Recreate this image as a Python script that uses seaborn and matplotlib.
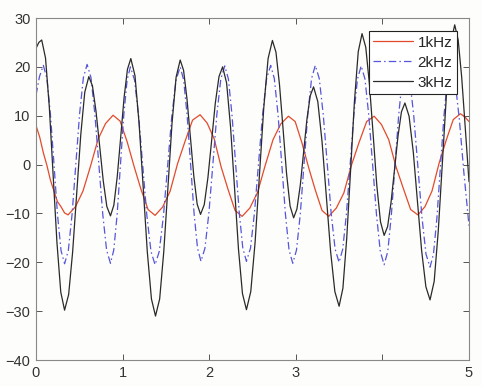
import matplotlib
matplotlib.use("Agg")
import matplotlib.pyplot as plt
import seaborn as sns
import pandas as pd

# ---- data ----
x_1k = [0.0, 0.043, 0.085, 0.125, 0.167, 0.207, 0.248, 0.288, 0.33, 0.37,
        0.457, 0.543, 0.63, 0.717, 0.803, 0.89,
        0.971, 1.052, 1.133, 1.213, 1.294, 1.375,
        1.462, 1.548, 1.635, 1.722, 1.808, 1.895,
        1.976, 2.057, 2.138, 2.218, 2.299, 2.38,
        2.469, 2.558, 2.648, 2.737, 2.826, 2.915,
        2.993, 3.07, 3.148, 3.225, 3.303, 3.38,
        3.468, 3.555, 3.643, 3.73, 3.818, 3.905,
        3.989, 4.073, 4.158, 4.242, 4.326, 4.41,
        4.492, 4.573, 4.655, 4.737, 4.818, 4.9, 4.95, 5.0]
y_1k = [8.0, 5.6, 2.4, -0.1, -3.2, -5.4, -7.6, -8.6, -9.9, -10.3,
        -8.6, -5.4, -0.3, 5.2, 8.4, 10.1,
        8.9, 4.7, -0.4, -5.1, -9.2, -10.4,
        -8.7, -5.5, 0.2, 4.8, 9.1, 10.2,
        8.5, 5.3, -0.5, -5.1, -9.4, -10.6,
        -8.9, -5.7, -0.1, 5.1, 8.3, 9.9,
        8.8, 4.5, -0.6, -5.2, -9.4, -10.6,
        -8.9, -5.8, -0.1, 4.5, 8.8, 9.9,
        8.2, 5.1, -0.5, -4.9, -9.2, -10.3,
        -8.6, -5.4, 0.3, 5.0, 9.2, 10.4, 9.8, 8.8]

x_2k = [0.0, 0.04, 0.085,
        0.126, 0.167, 0.208, 0.248, 0.289, 0.33,
        0.373, 0.417, 0.46, 0.503, 0.547, 0.59,
        0.635, 0.68, 0.725, 0.77, 0.815, 0.86,
        0.898, 0.937, 0.975, 1.013, 1.052, 1.09,
        1.138, 1.185, 1.233, 1.28, 1.328, 1.375,
        1.423, 1.472, 1.52, 1.568, 1.617, 1.665,
        1.705, 1.745, 1.785, 1.825, 1.865, 1.905,
        1.951, 1.997, 2.043, 2.088, 2.134, 2.18,
        2.222, 2.263, 2.305, 2.347, 2.388, 2.43,
        2.477, 2.523, 2.57, 2.617, 2.663, 2.71,
        2.752, 2.795, 2.838, 2.88, 2.922, 2.965,
        3.008, 3.052, 3.095, 3.138, 3.182, 3.225,
        3.271, 3.317, 3.363, 3.408, 3.454, 3.5,
        3.542, 3.585, 3.628, 3.67, 3.712, 3.755,
        3.799, 3.843, 3.888, 3.932, 3.976, 4.02,
        4.062, 4.103, 4.145, 4.187, 4.228, 4.27,
        4.317, 4.363, 4.41, 4.457, 4.503, 4.55,
        4.59, 4.63, 4.67, 4.71, 4.75, 4.79,
        4.84, 4.89, 4.94, 5.0]
y_2k = [14.2, 18.0, 20.3,
        17.6, 10.2, 0.0, -10.2, -17.6, -20.3,
        -17.6, -10.1, 0.1, 10.3, 17.8, 20.5,
        17.8, 10.3, 0.2, -10.0, -17.5, -20.2,
        -17.5, -10.2, -0.1, 10.0, 17.3, 20.0,
        17.3, 9.9, -0.3, -10.4, -17.8, -20.5,
        -17.8, -10.4, -0.3, 9.9, 17.3, 20.0,
        17.3, 10.1, 0.1, -9.9, -17.1, -19.8,
        -17.1, -9.8, 0.2, 10.2, 17.5, 20.2,
        17.5, 10.2, 0.2, -9.8, -17.1, -19.8,
        -17.1, -9.8, 0.3, 10.3, 17.6, 20.3,
        17.6, 10.2, 0.1, -10.1, -17.5, -20.2,
        -17.5, -10.1, 0.1, 10.2, 17.6, 20.3,
        17.6, 10.2, 0.2, -9.9, -17.3, -20.0,
        -17.3, -10.0, 0.1, 10.2, 17.5, 20.2,
        17.5, 10.0, -0.2, -10.3, -17.8, -20.5,
        -17.8, -10.4, -0.3, 9.9, 17.3, 20.0,
        17.3, 9.8, -0.5, -10.8, -18.3, -21.0,
        -18.3, -10.8, -0.5, 9.8, 17.3, 20.0,
        17.0, 9.0, -1.5, -12.5]

x_3k = [0.0, 0.033, 0.066,
        0.11, 0.154, 0.198, 0.242, 0.286, 0.33,
        0.377, 0.423, 0.47, 0.517, 0.563, 0.61,
        0.652, 0.693, 0.735, 0.777, 0.818, 0.86,
        0.899, 0.938, 0.978, 1.017, 1.056, 1.095,
        1.143, 1.19, 1.238, 1.285, 1.333, 1.38,
        1.428, 1.475, 1.523, 1.57, 1.618, 1.665,
        1.704, 1.743, 1.783, 1.822, 1.861, 1.9,
        1.943, 1.985, 2.028, 2.07, 2.113, 2.155,
        2.201, 2.247, 2.293, 2.338, 2.384, 2.43,
        2.48, 2.53, 2.58, 2.63, 2.68, 2.73,
        2.771, 2.812, 2.853, 2.893, 2.934, 2.975,
        3.013, 3.052, 3.09, 3.128, 3.167, 3.205,
        3.254, 3.303, 3.353, 3.402, 3.451, 3.5,
        3.544, 3.588, 3.633, 3.677, 3.721, 3.765,
        3.808, 3.85, 3.893, 3.935, 3.978, 4.02,
        4.06, 4.1, 4.14, 4.18, 4.22, 4.26,
        4.308, 4.357, 4.405, 4.453, 4.502, 4.55,
        4.598, 4.645, 4.693, 4.74, 4.788, 4.835,
        4.875, 4.915, 4.955, 5.0]
y_3k = [23.8, 25.0, 25.5,
        21.8, 11.7, -2.2, -16.0, -26.1, -29.8,
        -26.6, -17.9, -5.9, 6.1, 14.8, 18.0,
        16.1, 10.9, 3.8, -3.4, -8.6, -10.5,
        -8.3, -2.5, 5.6, 13.7, 19.5, 21.7,
        18.2, 8.5, -4.7, -17.8, -27.5, -31.0,
        -27.5, -17.9, -4.8, 8.3, 17.9, 21.4,
        19.3, 13.5, 5.6, -2.3, -8.1, -10.2,
        -8.2, -2.7, 4.9, 12.5, 18.0, 20.0,
        16.7, 7.6, -4.9, -17.3, -26.4, -29.7,
        -26.0, -15.9, -2.2, 11.6, 21.7, 25.4,
        23.0, 16.3, 7.3, -1.8, -8.5, -10.9,
        -9.1, -4.2, 2.5, 9.2, 14.1, 15.9,
        12.9, 4.7, -6.6, -17.8, -26.0, -29.0,
        -25.3, -15.1, -1.1, 12.9, 23.1, 26.8,
        24.0, 16.5, 6.2, -4.2, -11.7, -14.5,
        -12.7, -7.7, -1.0, 5.8, 10.8, 12.6,
        9.9, 2.5, -7.6, -17.6, -25.0, -27.7,
        -23.9, -13.6, 0.5, 14.5, 24.8, 28.6,
        25.5, 18.0, 8.0, -3.5]

series_names = ["1kHz", "2kHz", "3kHz"]
x_ticks = [0, 1, 2, 3, 4, 5]
x_tick_labels = ["0", "1", "2", "3", "", "5"]
y_ticks = [-40, -30, -20, -10, 0, 10, 20, 30]

df = pd.concat([
    pd.DataFrame({"x": x_1k, "y": y_1k, "series": series_names[0]}),
    pd.DataFrame({"x": x_2k, "y": y_2k, "series": series_names[1]}),
    pd.DataFrame({"x": x_3k, "y": y_3k, "series": series_names[2]}),
], ignore_index=True)

sns.set_theme(style="white")
plt.rcParams["font.family"] = ["Liberation Sans", "DejaVu Sans"]

fig = plt.figure(figsize=(4.82, 3.86), dpi=100)
fig.patch.set_facecolor("#fdfdfb")
ax = fig.add_axes([36 / 482, 1 - 360 / 386, 433 / 482, 342 / 386])
ax.set_facecolor("#fdfdfb")

palette = {"1kHz": "#e34a2c", "2kHz": "#5555dd", "3kHz": "#2a2a2a"}
dashes = {"1kHz": "", "2kHz": (6, 2.5, 1.2, 2.5), "3kHz": ""}
sns.lineplot(data=df, x="x", y="y", hue="series", style="series",
             palette=palette, dashes=dashes, linewidth=0.9, sort=False,
             estimator=None, ax=ax)

ax.set_xlim(0, 5)
ax.set_ylim(-40, 30)
ax.set_xticks(x_ticks)
ax.set_xticklabels(x_tick_labels)
ax.set_yticks(y_ticks)
ax.set_xlabel("")
ax.set_ylabel("")
ax.tick_params(direction="in", length=4, width=0.7, color="#555555",
               labelsize=10.5, labelcolor="#333333", top=True, right=True,
               bottom=True, left=True, pad=4)
for s in ax.spines.values():
    s.set_color("#888888")
    s.set_linewidth(0.8)

leg = ax.legend(loc="upper right", bbox_to_anchor=(0.972, 0.962),
                borderaxespad=0, fontsize=11, frameon=True, fancybox=False,
                handlelength=2.6, handletextpad=0.3, labelspacing=0.4,
                borderpad=0.3)
leg.get_frame().set_edgecolor("#222222")
leg.get_frame().set_linewidth(0.8)
leg.get_frame().set_facecolor("white")
leg.get_frame().set_alpha(1)
for line in leg.get_lines():
    line.set_linewidth(0.9)

fig.savefig("out.png", dpi=100, facecolor=fig.get_facecolor())
